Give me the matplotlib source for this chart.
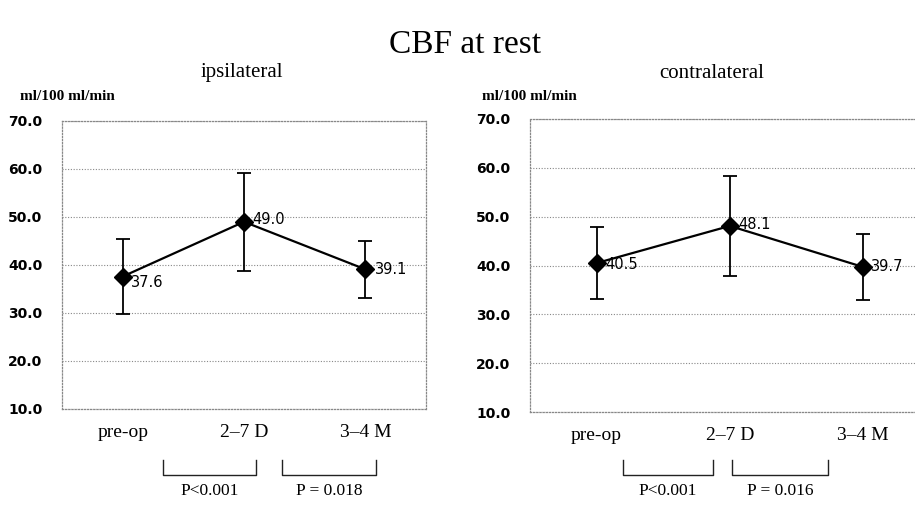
import matplotlib
matplotlib.use("Agg")
import matplotlib.pyplot as plt
import matplotlib.transforms as mtransforms

# Data
categories = ["pre-op", "2\u20137 D", "3\u20134 M"]
ipsi_mean = [37.6, 49.0, 39.1]
ipsi_sd = [7.9, 10.2, 6.0]
contra_mean = [40.5, 48.1, 39.7]
contra_sd = [7.3, 10.2, 6.8]
ipsi_brackets = [(0.33, 1.10), (1.31, 2.09)]
contra_brackets = [(0.20, 0.87), (1.02, 1.74)]
ipsi_pvals = ["P<0.001", "P = 0.018"]
contra_pvals = ["P<0.001", "P = 0.016"]
yticks = [10, 20, 30, 40, 50, 60, 70]

SERIF = "Liberation Serif"
SANS = "DejaVu Sans"
DOTS = (0, (1, 1.5))

fig = plt.figure(figsize=(9.15, 5.05), dpi=100)
fig.patch.set_facecolor("white")


def draw_panel(ax, means, sds, brackets, pvals, xmax, label_offsets,
               br_top, br_bot, p_y):
    x = list(range(len(categories)))
    ax.errorbar(x, means, yerr=sds, color="black", lw=1.6, marker="D",
                markersize=9.5, capsize=5, capthick=1.3, elinewidth=1.3,
                zorder=3)
    for xi, m, (dx, dy) in zip(x, means, label_offsets):
        ax.annotate(f"{m:.1f}", (xi, m), xytext=(dx, dy),
                    textcoords="offset points", fontsize=10.5, family=SANS,
                    va="center", ha="left", zorder=4)
    ax.set_xlim(-0.5, xmax)
    ax.set_ylim(10, 70)
    ax.set_yticks(yticks)
    ax.set_yticklabels([f"{v:.1f}" for v in yticks], family=SANS,
                       fontsize=10, fontweight="bold")
    ax.set_xticks(x)
    ax.set_xticklabels(categories, family=SERIF, fontsize=14)
    ax.tick_params(axis="both", length=0)
    ax.tick_params(axis="y", pad=14)
    ax.tick_params(axis="x", pad=11)
    ax.grid(axis="y", color="#888888", ls=DOTS, lw=0.8)
    for side in ["top", "bottom", "left", "right"]:
        ax.spines[side].set_linestyle(DOTS)
        ax.spines[side].set_color("#888888")
        ax.spines[side].set_linewidth(0.9)
    trans = mtransforms.blended_transform_factory(ax.transData, ax.transAxes)
    for (x0, x1), p in zip(brackets, pvals):
        ax.plot([x0, x0, x1, x1], [br_top, br_bot, br_bot, br_top],
                color="#222222", lw=1.0, transform=trans, clip_on=False)
        ax.text((x0 + x1) / 2, p_y, p, transform=trans, ha="center",
                va="center", family=SERIF, fontsize=12.5)


ax1 = fig.add_axes([62 / 915, 1 - 409 / 505, 364 / 915, 288 / 505])
draw_panel(ax1, ipsi_mean, ipsi_sd, ipsi_brackets, ipsi_pvals, 2.5,
           [(6, -4), (6, 2), (7, 0)], -0.177, -0.229, -0.285)

ax2 = fig.add_axes([530 / 915, 1 - 412 / 505, 385 / 915, 293 / 505])
draw_panel(ax2, contra_mean, contra_sd, contra_brackets, contra_pvals, 2.39,
           [(6, -1), (6, 1), (6, 0)], -0.164, -0.215, -0.27)
ax2.spines["right"].set_visible(False)

fig.text(465 / 915, 1 - 45 / 505, "CBF at rest", family=SERIF, fontsize=24,
         ha="center", va="center")
fig.text(242 / 915, 1 - 73 / 505, "ipsilateral", family=SERIF, fontsize=15,
         ha="center", va="center")
fig.text(712 / 915, 1 - 73 / 505, "contralateral", family=SERIF, fontsize=15,
         ha="center", va="center")
fig.text(20 / 915, 1 - 96 / 505, "ml/100 ml/min", family=SERIF, fontsize=11,
         fontweight="bold", ha="left", va="center")
fig.text(482 / 915, 1 - 96 / 505, "ml/100 ml/min", family=SERIF, fontsize=11,
         fontweight="bold", ha="left", va="center")

fig.savefig("out.png", dpi=100, facecolor="white")
